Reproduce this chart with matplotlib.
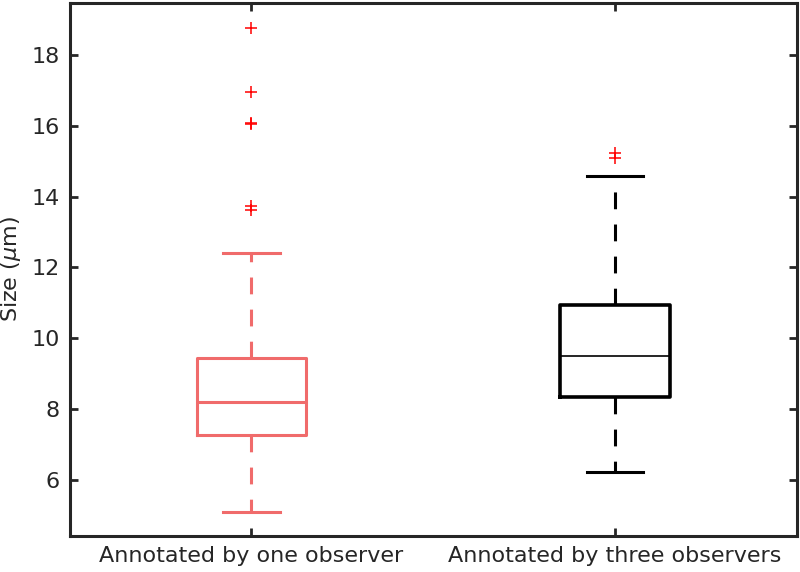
import matplotlib
matplotlib.use("Agg")
import matplotlib.pyplot as plt

# values
labels = ["Annotated by one observer", "Annotated by three observers"]
medians = [8.20, 9.50]
q1 = [7.27, 8.34]
q3 = [9.45, 10.94]
whislo = [5.10, 6.23]
whishi = [12.41, 14.59]
fliers = [[18.75, 16.96, 16.08, 16.04, 13.73, 13.62], [15.22, 15.08]]

colors = ["#F06B6B", "#000000"]
edge = "#262626"

fig, ax = plt.subplots(figsize=(8, 5.72), dpi=100)
fig.subplots_adjust(left=0.087, right=0.996, top=0.995, bottom=0.063)

for i in range(len(labels)):
    stats = [dict(med=medians[i], q1=q1[i], q3=q3[i], whislo=whislo[i],
                  whishi=whishi[i], fliers=fliers[i], label=labels[i])]
    c = colors[i]
    ax.bxp(stats, positions=[i + 1], widths=0.30,
           boxprops=dict(color=c, lw=2.2 if i == 0 else 2.6),
           medianprops=dict(color=c, lw=2.2 if i == 0 else 1.2),
           whiskerprops=dict(color=c, lw=2.2, linestyle=(0, (5.5, 5))),
           capprops=dict(color=c, lw=2.2),
           capwidths=0.155,
           flierprops=dict(marker="+", markeredgecolor="#FF0000",
                           markersize=8.5, markeredgewidth=1.1))

ax.set_xlim(0.5, 2.5)
ax.set_ylim(4.42, 19.47)
ax.set_xticks([1, 2])
ax.set_xticklabels(labels)
ax.set_yticks([6, 8, 10, 12, 14, 16, 18])
ax.set_ylabel("Size ($\\mu$m)", fontsize=16, color=edge, labelpad=6)
ax.tick_params(direction="in", length=6, width=2, colors=edge,
               labelsize=16, top=True, right=True, pad=7)
for s in ax.spines.values():
    s.set_linewidth(2.2)
    s.set_color(edge)

fig.savefig("out.png", dpi=100)
